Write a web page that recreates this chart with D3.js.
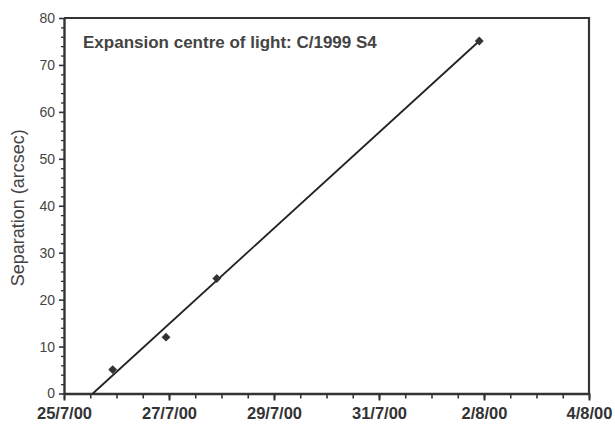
<!DOCTYPE html>
<html><head><meta charset="utf-8">
<script src="https://cdn.jsdelivr.net/npm/d3@7"></script>
<style>
html,body{margin:0;padding:0;background:#fff;}
text{font-family:"Liberation Sans",Arial,sans-serif;}
</style></head>
<body>
<svg id="chart" width="615" height="425"></svg>
<script>
// Observations
const obsDates = ["2000-07-25T22:15Z","2000-07-26T22:38Z","2000-07-27T21:50Z","2000-08-01T21:50Z"];
const obsValues = [5.1, 12.0, 24.5, 75.1];
// Linear fit line endpoints
const fitDates = ["2000-07-25T13:10Z","2000-08-01T21:50Z"];
const fitValues = [0, 75.1];
// Axis ticks
const xTickDates = ["2000-07-25","2000-07-27","2000-07-29","2000-07-31","2000-08-02","2000-08-04"];
const xTickLabels = ["25/7/00","27/7/00","29/7/00","31/7/00","2/8/00","4/8/00"];
const yTicks = [0,10,20,30,40,50,60,70,80];
const title = "Expansion centre of light: C/1999 S4";
const yLabel = "Separation (arcsec)";

const svg = d3.select("#chart");
const L = 64, R = 589, T = 18, B = 393.5;
const x = d3.scaleUtc().domain([new Date("2000-07-25T00:00Z"), new Date("2000-08-04T00:00Z")]).range([L, R]);
const y = d3.scaleLinear().domain([0, 80]).range([B, T]);
const ink = "#333";

// frame (top + right)
svg.append("path").attr("d", `M${L},${T}H${R}V${B}`).attr("fill","none").attr("stroke",ink).attr("stroke-width",2.2);

// minor y ticks
const yMinor = d3.range(0, 81, 2).filter(v => v % 10 !== 0);
svg.append("g").attr("transform",`translate(${L},0)`)
  .call(d3.axisLeft(y).tickValues(yMinor).tickSize(3).tickFormat(""))
  .call(g => g.select(".domain").remove())
  .selectAll("line").attr("stroke",ink).attr("stroke-width",1.3);

// major y axis
const yAx = svg.append("g").attr("transform",`translate(${L},0)`)
  .call(d3.axisLeft(y).tickValues(yTicks).tickSize(5).tickPadding(4).tickSizeOuter(0));
yAx.select(".domain").attr("stroke",ink).attr("stroke-width",2.4);
yAx.selectAll("line").attr("stroke",ink).attr("stroke-width",1.6);
yAx.selectAll("text").attr("font-size",14).attr("fill","#444");

// minor x ticks (half days)
const xMinor = d3.range(0, 21).map(i => new Date(Date.UTC(2000,6,25) + i*12*3600*1000));
svg.append("g").attr("transform",`translate(0,${B})`)
  .call(d3.axisBottom(x).tickValues(xMinor).tickSize(5).tickFormat(""))
  .call(g => g.select(".domain").remove())
  .selectAll("line").attr("stroke",ink).attr("stroke-width",1.6);

// major x axis
const xAx = svg.append("g").attr("transform",`translate(0,${B})`)
  .call(d3.axisBottom(x).tickValues(xTickDates.map(d => new Date(d+"T00:00Z")))
    .tickFormat((d,i) => xTickLabels[i]).tickSize(7).tickPadding(7).tickSizeOuter(0));
xAx.select(".domain").attr("stroke",ink).attr("stroke-width",2.4);
xAx.selectAll("line").attr("stroke",ink).attr("stroke-width",2);
xAx.selectAll("text").attr("font-size",16.5).attr("font-weight","bold").attr("fill","#333");

// fit line
const fit = fitDates.map((d,i) => ({d:new Date(d), v:fitValues[i]}));
svg.append("path").datum(fit)
  .attr("d", d3.line().x(p => x(p.d)).y(p => y(p.v)))
  .attr("fill","none").attr("stroke","#222").attr("stroke-width",1.8);

// points
const obs = obsDates.map((d,i) => ({d:new Date(d), v:obsValues[i]}));
svg.append("g").selectAll("path").data(obs).join("path")
  .attr("transform", p => `translate(${x(p.d)},${y(p.v)})`)
  .attr("d", d3.symbol(d3.symbolDiamond2, 50))
  .attr("fill","#333");

// title
svg.append("text").attr("x",83).attr("y",48).attr("font-size",17).attr("font-weight","bold").attr("fill","#444").text(title);

// y label
svg.append("text").attr("transform",`translate(24,${(T+B)/2+2}) rotate(-90)`).attr("text-anchor","middle")
  .attr("font-size",18).attr("fill","#444").text(yLabel);
</script>
</body></html>
